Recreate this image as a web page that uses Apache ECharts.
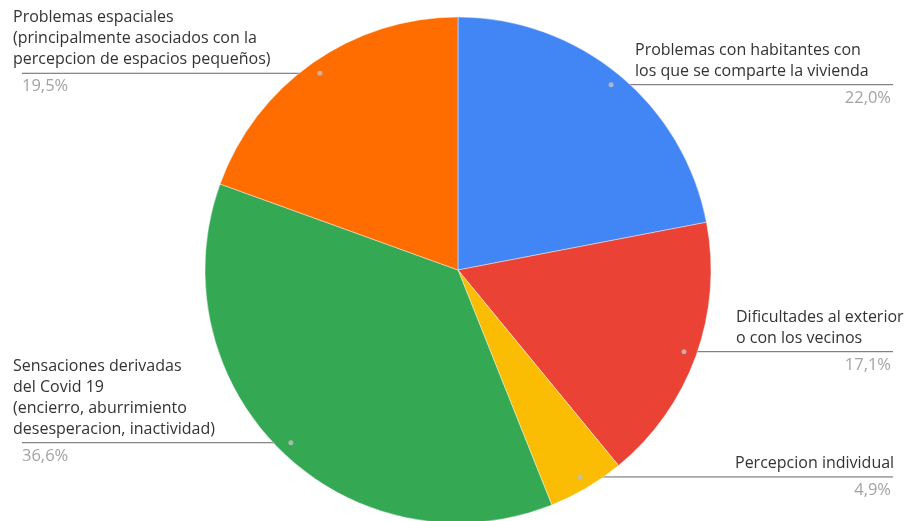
<!DOCTYPE html>
<html>
<head>
<meta charset="utf-8">
<script src="https://cdn.jsdelivr.net/npm/echarts@6/dist/echarts.min.js"></script>
<style>
  html, body { margin: 0; padding: 0; background: #fff; }
  #chart { width: 912px; height: 521px; }
</style>
</head>
<body>
<div id="chart"></div>
<script>
// Categories, clockwise from 12 o'clock
const categories = [
  'Problemas con habitantes con\nlos que se comparte la vivienda',
  'Dificultades al exterior\no con los vecinos',
  'Percepcion individual',
  'Sensaciones derivadas\ndel Covid 19\n(encierro, aburrimiento\ndesesperacion, inactividad)',
  'Problemas espaciales\n(principalmente asociados con la\npercepcion de espacios pequeños)'
];
// Share of responses, percent
const shares = [22.0, 17.1, 4.9, 36.6, 19.5];
const colors = ['#4285F4', '#EA4335', '#FBBC04', '#34A853', '#FF6D01'];

// Layout constants
const CX = 458, CY = 270, R = 253;
const LINE_LEFT = 22, LINE_RIGHT = 893;
const nameLeftRight = [635, 736, 735]; // left edge of right-side name blocks
const NAME_LEFT = 13;

const fmtPct = v => v.toFixed(1).replace('.', ',') + '%';

const pieData = categories.map((name, i) => ({
  name, value: shares[i], itemStyle: { color: colors[i] }
}));
const ghostData = () => categories.map((name, i) => ({ name, value: shares[i] }));

// Leader lines start slightly inside the slice edge
function lineStart(p) {
  const s = p.labelLinePoints[0];
  return [CX + (s[0] - CX) * 0.95, CY + (s[1] - CY) * 0.95];
}
function isRight(p) {
  return p.labelLinePoints[0][0] > CX;
}

const ghostBase = {
  type: 'pie',
  center: [CX, CY],
  radius: [0, R],
  startAngle: 90,
  clockwise: true,
  silent: true,
  avoidLabelOverlap: false,
  itemStyle: { color: 'rgba(0,0,0,0)', borderWidth: 0 },
  labelLine: { show: true, length: 0, length2: 10, lineStyle: { color: 'rgba(0,0,0,0)', width: 0 } },
  emphasis: { disabled: true }
};

const chart = echarts.init(document.getElementById('chart'), null, { renderer: 'canvas' });
chart.setOption({
  animation: false,
  series: [
    {
      type: 'pie',
      center: [CX, CY],
      radius: [0, R],
      startAngle: 90,
      clockwise: true,
      avoidLabelOverlap: false,
      data: pieData,
      itemStyle: { borderColor: 'rgba(255,255,255,0.7)', borderWidth: 0.6 },
      label: {
        show: true,
        position: 'outside',
        formatter: '{b}',
        fontFamily: 'Open Sans',
        fontSize: 16,
        lineHeight: 21,
        color: '#333333',
        align: 'left'
      },
      labelLine: {
        show: true, length: 0, length2: 10,
        lineStyle: { color: '#666666', width: 1 }
      },
      labelLayout: function (p) {
        const [sx, sy] = lineStart(p);
        const right = isRight(p);
        const ex = right ? LINE_RIGHT : LINE_LEFT;
        return {
          x: right ? nameLeftRight[p.dataIndex] : NAME_LEFT,
          y: sy - 3,
          align: 'left',
          verticalAlign: 'bottom',
          labelLinePoints: [[sx, sy], [sx, sy], [ex, sy]]
        };
      },
      emphasis: { disabled: true }
    },
    Object.assign({}, ghostBase, {
      // Percentage labels below each leader line
      data: ghostData(),
      label: {
        show: true,
        position: 'outside',
        formatter: p => fmtPct(p.value),
        fontFamily: 'Open Sans',
        fontSize: 16.5,
        lineHeight: 21,
        color: '#a3a3a3'
      },
      labelLayout: function (p) {
        const sy = lineStart(p)[1];
        const right = isRight(p);
        return {
          x: right ? LINE_RIGHT - 2 : LINE_LEFT,
          y: sy + 3,
          align: right ? 'right' : 'left',
          verticalAlign: 'top'
        };
      }
    }),
    Object.assign({}, ghostBase, {
      // Small dot where each leader line starts
      data: ghostData(),
      label: {
        show: true,
        position: 'outside',
        formatter: '{dot|}',
        rich: {
          dot: { width: 5, height: 5, borderRadius: 2.5, backgroundColor: 'rgba(190,190,190,0.85)' }
        }
      },
      labelLayout: function (p) {
        const [sx, sy] = lineStart(p);
        return { x: sx, y: sy, align: 'center', verticalAlign: 'middle' };
      }
    })
  ]
});
</script>
</body>
</html>
